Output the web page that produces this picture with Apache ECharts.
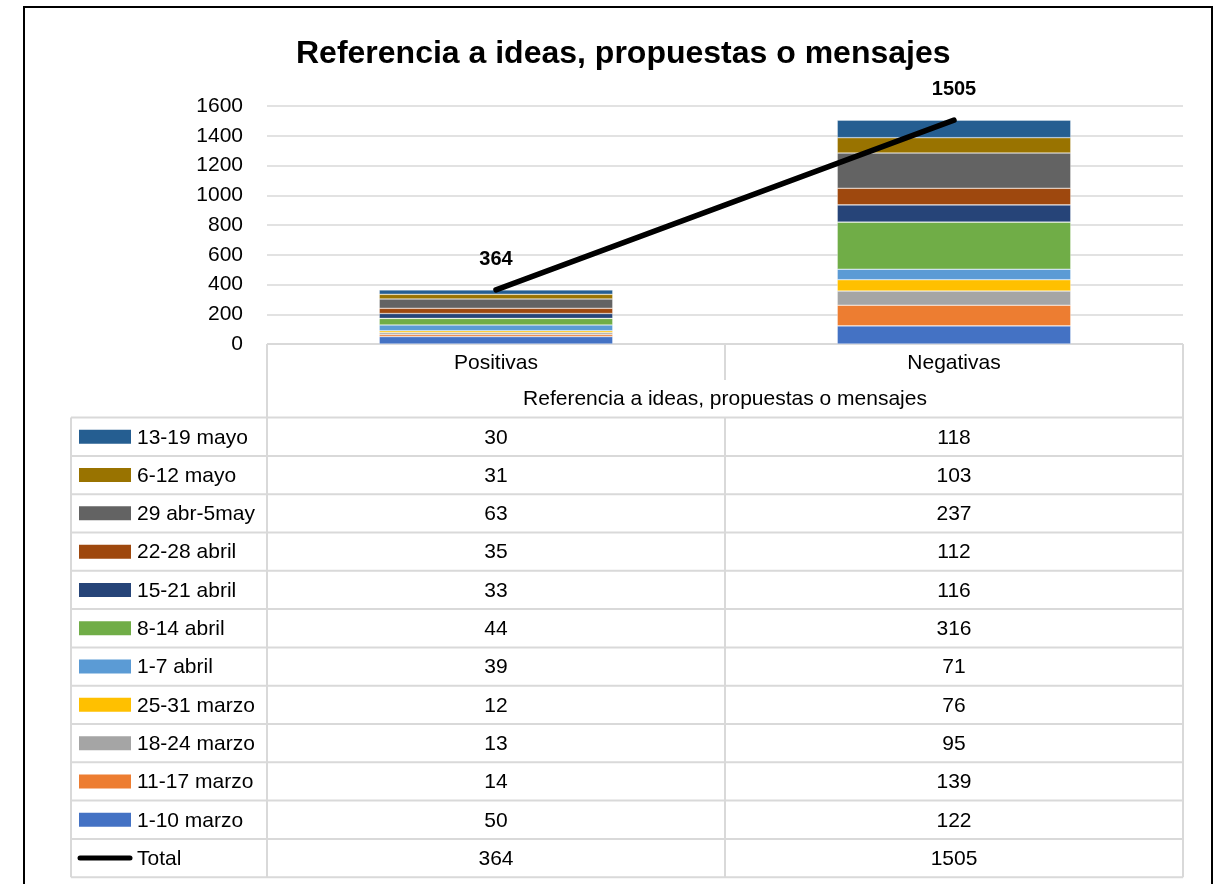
<!DOCTYPE html>
<html>
<head>
<meta charset="utf-8">
<script src="https://cdn.jsdelivr.net/npm/echarts@6/dist/echarts.min.js"></script>
<style>
 html, body { margin: 0; padding: 0; background: #fff; }
 #chart { width: 1222px; height: 884px; }
</style>
</head>
<body>
<div id="chart"></div>
<script>
// categories and data
var categories = ['Positivas', 'Negativas'];
var groupTitle = 'Referencia a ideas, propuestas o mensajes';
var seriesNames = ['1-10 marzo', '11-17 marzo', '18-24 marzo', '25-31 marzo', '1-7 abril',
  '8-14 abril', '15-21 abril', '22-28 abril', '29 abr-5may', '6-12 mayo', '13-19 mayo'];
var positivas = [50, 14, 13, 12, 39, 44, 33, 35, 63, 31, 30];
var negativas = [122, 139, 95, 76, 71, 316, 116, 112, 237, 103, 118];
var totals = [364, 1505];
var colors = ['#4472C4', '#ED7D31', '#A5A5A5', '#FFC000', '#5B9BD5', '#70AD47',
  '#264478', '#9E480E', '#636363', '#997300', '#255E91'];

var FONT = 'Liberation Sans';
var chart = echarts.init(document.getElementById('chart'));

var series = [];
for (var i = 0; i < seriesNames.length; i++) {
  series.push({
    name: seriesNames[i],
    type: 'bar',
    stack: 'total',
    barWidth: '51%',
    itemStyle: { color: colors[i], borderColor: 'rgba(255,255,255,0.55)', borderWidth: 0.6 },
    data: [positivas[i], negativas[i]]
  });
}
series.push({
  name: 'Total',
  type: 'line',
  data: totals,
  symbol: 'circle',
  symbolSize: 1,
  lineStyle: { color: '#000', width: 5.5, cap: 'round' },
  itemStyle: { color: '#000' },
  label: { show: true, position: 'top', distance: 20, fontFamily: FONT, fontWeight: 'bold', fontSize: 20, color: '#000' },
  z: 5
});

chart.setOption({
  animation: false,
  title: {
    text: 'Referencia a ideas, propuestas o mensajes',
    left: 291,
    top: 33,
    textStyle: { fontFamily: FONT, fontSize: 32, fontWeight: 'bold', color: '#000' }
  },
  grid: { left: 267, right: 39, top: 106, bottom: 540 },
  xAxis: {
    type: 'category',
    data: categories,
    axisLine: { show: false },
    axisTick: { show: false },
    axisLabel: { show: false }
  },
  yAxis: {
    type: 'value',
    min: 0, max: 1600, interval: 200,
    axisLine: { show: false },
    axisTick: { show: false },
    axisLabel: { fontFamily: FONT, fontSize: 21, color: '#000', margin: 24, formatter: function (v) { return String(v); } },
    splitLine: { lineStyle: { color: '#d9d9d9', width: 1.5 } }
  },
  series: series
});

// data table under the plot, placed from the axes
function buildTable() {
  var x0 = chart.convertToPixel({ xAxisIndex: 0 }, 0);
  var x1 = chart.convertToPixel({ xAxisIndex: 0 }, 1);
  var half = (x1 - x0) / 2;
  var left = x0 - half, mid = x0 + half, right = x1 + half;
  var top = chart.convertToPixel({ yAxisIndex: 0 }, 0);
  var labelLeft = 71;
  var rowH = 38.3;
  var hdrH = 36;
  var bodyTop = top + 2 * rowH - 3;
  var nRows = seriesNames.length + 1;
  var bottom = bodyTop + nRows * rowH;
  var lc = '#d9d9d9', lw = 2;
  var els = [];
  function line(xa, ya, xb, yb) {
    els.push({ type: 'line', shape: { x1: xa, y1: ya, x2: xb, y2: yb }, style: { stroke: lc, lineWidth: lw }, z: 1 });
  }
  function txt(s, x, y, align) {
    els.push({ type: 'text', x: x, y: y, style: { text: s, fill: '#000', font: '21px "' + FONT + '"', align: align || 'center', verticalAlign: 'middle' }, z: 2 });
  }
  // borders
  line(left, top, right, top);
  line(left, top, left, bottom);
  line(right, top, right, bottom);
  line(mid, top, mid, top + hdrH);
  line(labelLeft, bodyTop, right, bodyTop);
  line(labelLeft, bodyTop, labelLeft, bottom);
  line(mid, bodyTop, mid, bottom);
  for (var r = 1; r <= nRows; r++) {
    line(labelLeft, bodyTop + r * rowH, right, bodyTop + r * rowH);
  }
  // header texts
  txt(categories[0], x0, top + 19);
  txt(categories[1], x1, top + 19);
  txt(groupTitle, (left + right) / 2, top + 55);
  // body rows: last series on top
  for (var k = 0; k < seriesNames.length; k++) {
    var idx = seriesNames.length - 1 - k;
    var cy = bodyTop + k * rowH + rowH / 2;
    els.push({ type: 'rect', shape: { x: 79, y: cy - 7, width: 52, height: 14 }, style: { fill: colors[idx] }, z: 2 });
    txt(seriesNames[idx], 137, cy + 1, 'left');
    txt(String(positivas[idx]), x0, cy + 1);
    txt(String(negativas[idx]), x1, cy + 1);
  }
  var ty = bodyTop + seriesNames.length * rowH + rowH / 2;
  els.push({ type: 'line', shape: { x1: 80, y1: ty, x2: 130, y2: ty }, style: { stroke: '#000', lineWidth: 5, lineCap: 'round' }, z: 2 });
  txt('Total', 137, ty + 1, 'left');
  txt(String(totals[0]), x0, ty + 1);
  txt(String(totals[1]), x1, ty + 1);
  // outer frame
  els.push({ type: 'rect', shape: { x: 24, y: 7, width: 1188, height: 900 }, style: { fill: 'none', stroke: '#000', lineWidth: 2 }, z: 3 });
  chart.setOption({ graphic: els });
}
buildTable();
</script>
</body>
</html>
